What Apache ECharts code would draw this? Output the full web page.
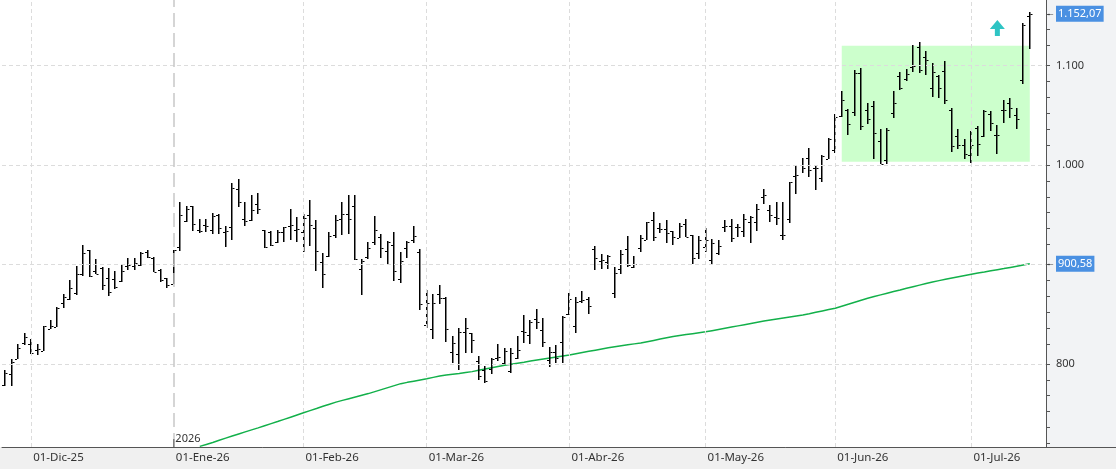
<!DOCTYPE html>
<html lang="es">
<head>
<meta charset="utf-8">
<title>Cotización diaria</title>
<script src="https://cdn.jsdelivr.net/npm/echarts@6/dist/echarts.min.js"></script>
<style>
  html, body { margin: 0; padding: 0; background: #fff; }
  #chart { width: 1116px; height: 469px; }
</style>
</head>
<body>
<div id="chart"></div>
<script>
// barras OHLC diarias, una por sesión desde el 25-Nov-25
const opens = [
  779, 790, 805, 821, 819.6, 814, 813, 835.5, 837, 861.5,
  865, 871.6, 890, 914.5, 893, 896, 886.8, 885, 883.4, 898,
  898.6, 899.3, 912, 906, 894.6, 886, 880.7, 918, 944, 958.4,
  934.8, 940, 934.8, 949.3, 933, 937.5, 976, 945.6, 944.6, 960.8,
  934.8, 932.4, 922.3, 933, 938.8, 934.5, 932.8, 950, 937, 902.4,
  908, 929.4, 945.6, 951, 959, 895, 907.8, 922.3, 928, 913.5,
  919.3, 885.8, 916.2, 925, 912.8, 839.2, 835, 870.6, 866, 811.8,
  810, 832, 830.7, 802.4, 793.6, 795, 806.4, 800.7, 793, 805.4,
  833.5, 829.4, 845, 834.5, 804, 812, 822, 850.5, 838, 862.8,
  865.5, 915.6, 903.2, 902.9, 871.4, 895.3, 915.9, 897, 916.6, 925,
  945, 936.7, 936, 933.3, 926.6, 940.7, 929.3, 911, 917.6, 904.4,
  911.6, 937.4, 939, 937.4, 934, 942.7, 943, 968.2, 955.1, 947.7,
  930, 946, 988.9, 999.7, 1007.4, 996.6, 987.3, 1006, 1015, 1049.5,
  1055, 1053, 1092.3, 1055, 1059.7, 1023.7, 1005.3, 1052.7, 1089.7, 1086.7,
  1098.3, 1118.7, 1109, 1077, 1089.3, 1094.7, 1055, 1029, 1020, 1010,
  1036.7, 1029.3, 1051.7, 1029.7, 1055, 1062.7, 1050, 1085, 1149.7
];
const highs = [
  794, 805, 820, 831.4, 825, 819.6, 838.5, 844, 856.8, 870.6,
  884, 898, 919.3, 915, 905, 897, 896.3, 893, 900, 906,
  906, 912.8, 914.5, 907, 895.3, 886.8, 915, 962.8, 959, 959,
  946, 946, 951.7, 950.7, 938.8, 982, 985.5, 962.8, 970, 972.3,
  934.8, 934, 934.8, 938, 956, 948, 950.3, 965, 945, 911.5,
  932.8, 950, 963, 969.6, 969.6, 905.7, 922.6, 949, 930.7, 923.6,
  932.8, 912, 923.6, 938.8, 915.9, 874, 870, 879, 867, 827.7,
  836.5, 846.6, 831.4, 808, 797.6, 805.8, 820, 816, 816, 827.7,
  849.3, 844.6, 854.7, 846, 817, 819, 848, 871, 867, 873.3,
  867.2, 918.9, 910.6, 909.9, 897, 914.4, 928.4, 908.2, 929.9, 943,
  953, 942, 945, 934, 942, 946, 930, 928.3, 936.7, 926,
  924.6, 944.7, 946, 940.7, 951, 948.4, 960.5, 975.9, 960.1, 962.8,
  963.2, 983.2, 1000, 1006.7, 1017.4, 1000.3, 1010, 1027, 1051, 1074.5,
  1056, 1096, 1097.7, 1062.7, 1064, 1036, 1036.7, 1074, 1094, 1096.7,
  1121, 1124, 1115, 1103, 1090, 1105, 1057, 1036, 1025.7, 1034,
  1039, 1055.3, 1054, 1040, 1065, 1067, 1057.3, 1142.7, 1153.5
];
const lows = [
  778, 778, 804.7, 819, 809.8, 808.8, 812.8, 834.8, 836.8, 856.4,
  864, 869.6, 888, 887.5, 890, 874.7, 868, 875, 882.4, 894.6,
  894, 898.6, 906, 892, 882.8, 876.7, 880.4, 913, 943, 933.8,
  932, 933, 930.4, 931, 918, 925, 957.8, 939, 944, 951,
  916.9, 918.9, 921.3, 923, 924.7, 923, 912.8, 919, 893.6, 876.4,
  907.8, 927, 929.4, 931, 904, 869, 905.7, 919.6, 906.4, 900.3,
  883.4, 881.4, 906, 921.3, 853.7, 835.8, 825, 860.5, 821.6, 801,
  794, 810.5, 810.5, 784, 780.4, 790.2, 803, 800.3, 790.5, 804.7,
  821, 820, 834.8, 816.6, 797, 801, 801, 849.5, 830.7, 860.8,
  850, 894.1, 895.4, 895.4, 866, 890.3, 897.7, 896, 912.9, 924.6,
  923.3, 931.7, 921.3, 919.3, 926.3, 927.6, 900, 905.6, 912.9, 900,
  909.2, 932.7, 922.6, 928, 927.6, 921.6, 933.3, 960.8, 942.7, 939.4,
  924.3, 941.7, 970.9, 992, 987.6, 974.5, 982.6, 1005.7, 1012.3, 1048.5,
  1030, 1049.7, 1035.3, 1041.3, 1006.3, 1000.7, 1001.3, 1047.3, 1075.7, 1084.3,
  1093.3, 1092.3, 1090.3, 1068.3, 1067.3, 1061.3, 1013.3, 1016.3, 1006.3, 1002.3,
  1009.3, 1028.3, 1034.3, 1011, 1042.3, 1047.3, 1036.3, 1081.7, 1116.3
];
const closes = [
  791, 802, 816, 826.7, 810.8, 815, 838, 838.5, 856, 867,
  876.7, 889.9, 911, 888.5, 890.5, 879.7, 872.6, 877.4, 892.9, 899,
  901.7, 911.8, 907, 892.6, 884.5, 879.7, 914, 950, 955.7, 941,
  933.4, 939, 949, 936.8, 933.8, 977, 963, 944, 954.7, 956,
  917.9, 920, 932.4, 937.5, 940, 935.8, 946.6, 939.9, 913.5, 890,
  928.7, 945, 950.3, 946, 905, 903, 917, 934.5, 917, 923,
  892.9, 903.4, 923, 928.7, 860.5, 861.5, 861, 866.2, 835, 821,
  832.4, 836, 824.3, 788.2, 783, 804.7, 807.4, 813, 810.5, 813.9,
  832.4, 842.6, 842.6, 821.6, 812, 806, 847, 865, 862.5, 864.5,
  858, 906.6, 904.2, 908.9, 891, 910.3, 899.6, 900.7, 926.6, 942.4,
  927.6, 936, 931.7, 927.6, 938.7, 928, 906, 924.6, 924.6, 922,
  919, 938.4, 927, 938, 946, 947.4, 955.8, 969.5, 950.1, 947,
  929.6, 982.6, 990.3, 997, 995.3, 997.3, 1009.4, 1026.5, 1048, 1065,
  1041, 1092.3, 1039, 1046, 1031.7, 1001.3, 1035, 1062.7, 1077.7, 1091,
  1099.3, 1096, 1105.7, 1093.7, 1077, 1065, 1019, 1020.3, 1010.7, 1020,
  1020.7, 1054, 1042.7, 1029.7, 1055.7, 1057.7, 1046.7, 1140.7, 1152.07
];

// media móvil: solo el tramo visible, empieza en la sesión 30
const maStart = 30;
const maValues = [
  717, 719, 721, 723.2, 725.3, 727.4, 729.5, 731.6, 733.6, 735.6, 737.8, 739.9, 742,
  744.2, 746.4, 748.6, 750.8,
  753, 755.1, 757.3, 759.4, 761.5,
  763.3, 765, 766.7, 768.4, 770.1,
  772.1, 774.1, 776.1, 778.1, 780.1,
  781.4, 782.6, 783.8, 785,
  786.4, 787.8, 788.8, 789.6, 790.4, 791.3, 792.2,
  793.5, 794.8, 796.1, 797.4, 798.7,
  799.7, 800.7, 801.7, 802.8, 803.9,
  805, 806, 807, 808, 809,
  810.2, 811.4, 812.6, 813.8, 815, 816.2,
  817.2, 818.2, 819.2, 820.1, 821,
  822.3, 823.6, 824.9, 826.2, 827.5,
  828.5, 829.5, 830.4, 831.3, 832.2,
  833.4, 834.6, 835.8, 837, 838.2,
  839.4, 840.6, 841.8, 843, 844.2,
  845.2, 846.2, 847.2, 848.2, 849.2,
  850.4, 851.8, 853.2, 854.6, 856,
  858, 860, 862, 864, 866,
  867.7, 869.4, 871.1, 872.7, 874.3,
  876, 877.6, 879.2, 880.8, 882.4,
  883.7, 885, 886.3, 887.6, 888.9, 890.1,
  891.3, 892.4, 893.6, 894.7, 895.8,
  897, 898.2, 899.4, 900.58
];

// calendario de sesiones
const firstSession = '2025-11-25';
const lastSession = '2026-07-14';
const holidays = ['2025-12-25', '2026-01-01', '2026-01-06', '2026-02-16', '2026-04-03', '2026-05-01', '2026-06-24'];
const monthNames = ['Ene', 'Feb', 'Mar', 'Abr', 'May', 'Jun', 'Jul', 'Ago', 'Sep', 'Oct', 'Nov', 'Dic'];

// eje de precios
const priceMin = 716.4;
const priceMax = 1165.9;
const priceLabels = [800, 900, 1000, 1100];
const tickSteps = [0, 20, 36, 52, 68, 84];

// zona de consolidación y flecha
const boxFrom = '2026-06-02';
const boxTo = '2026-07-14';
const boxHigh = 1120;
const boxLow = 1003.3;
const arrowDate = '2026-07-07';
const arrowPrice = 1137.8;

function buildSessions() {
  const out = [];
  const d = new Date(firstSession + 'T00:00:00Z');
  const end = new Date(lastSession + 'T00:00:00Z');
  while (d <= end) {
    const iso = d.toISOString().slice(0, 10);
    const wd = d.getUTCDay();
    if (wd !== 0 && wd !== 6 && holidays.indexOf(iso) < 0) out.push(iso);
    d.setUTCDate(d.getUTCDate() + 1);
  }
  return out;
}

// 1.152,07
function fmtEs(v, dec) {
  const parts = v.toFixed(dec).split('.');
  parts[0] = parts[0].replace(/\B(?=(\d{3})+(?!\d))/g, '.');
  return parts.join(',');
}

const dates = buildSessions();
// dos huecos a la derecha, antes del eje de precios
const categories = dates.concat(['_a', '_b']);

const monthStart = categories.map((d, i) =>
  i > 0 && i < dates.length && d.slice(5, 7) !== categories[i - 1].slice(5, 7));
const yearIdx = dates.findIndex((d, i) => i > 0 && d.slice(0, 4) !== dates[i - 1].slice(0, 4));
const yearStart = dates[yearIdx];
const monthLines = dates.filter((d, i) => monthStart[i] && i !== yearIdx);

const yTicks = [];
for (let h = 700; h <= 1100; h += 100) {
  tickSteps.forEach(s => {
    if (h + s >= priceMin && h + s <= priceMax) yTicks.push(h + s);
  });
}

const ohlc = dates.map((d, i) => [i, opens[i], highs[i], lows[i], closes[i]]);
const maData = dates.map((d, i) => (i >= maStart ? maValues[i - maStart] : null));

const lastClose = closes[closes.length - 1];
const lastMa = maValues[maValues.length - 1];

function renderBar(params, api) {
  const i = api.value(0);
  const hi = api.coord([i, api.value(2)]);
  const lo = api.coord([i, api.value(3)]);
  const op = api.coord([i, api.value(1)]);
  const cl = api.coord([i, api.value(4)]);
  const x = Math.round(hi[0]) - 1;
  const y1 = Math.round(hi[1]);
  const y2 = Math.round(lo[1]);
  const ink = { fill: '#000' };
  return {
    type: 'group',
    children: [
      { type: 'rect', shape: { x: x, y: y1, width: 1.5, height: Math.max(1, y2 - y1) }, style: ink },
      { type: 'rect', shape: { x: x - 2, y: Math.round(op[1]), width: 2, height: 1 }, style: ink },
      { type: 'rect', shape: { x: x + 1.5, y: Math.round(cl[1]), width: 2, height: 1 }, style: ink }
    ]
  };
}

function priceTag(text) {
  return {
    show: true,
    position: 'end',
    distance: 0,
    formatter: '{a|←}{b|' + text + '}',
    rich: {
      a: { color: '#444', fontSize: 9, padding: [0, 1, 0, 0] },
      b: { color: '#fff', backgroundColor: '#4a90e2', fontSize: 11, padding: [3, 2, 2, 2] }
    }
  };
}

const chart = echarts.init(document.getElementById('chart'));
chart.setOption({
  animation: false,
  backgroundColor: '#fff',
  textStyle: { fontFamily: 'Noto Sans' },
  grid: {
    left: 2, right: 70, top: 0, bottom: 22,
    show: true, backgroundColor: '#fff', borderWidth: 0,
    outerBoundsMode: 'none'
  },
  graphic: [
    { type: 'rect', z: -10, left: 1046, top: 0, shape: { width: 70, height: 447 }, style: { fill: '#f2f3f5' } },
    { type: 'rect', z: -10, left: 0, top: 447, shape: { width: 1116, height: 22 }, style: { fill: '#f0f0f0' } },
    { type: 'line', z: 10, shape: { x1: 1046, y1: 447.5, x2: 1116, y2: 447.5 }, style: { stroke: '#555', lineWidth: 1 } }
  ],
  xAxis: {
    type: 'category',
    data: categories,
    boundaryGap: true,
    axisLine: { lineStyle: { color: '#555', width: 1 } },
    axisTick: {
      alignWithLabel: true,
      interval: i => monthStart[i],
      length: 10,
      lineStyle: { color: '#555' }
    },
    axisLabel: {
      interval: i => monthStart[i],
      formatter: v => '01-' + monthNames[+v.slice(5, 7) - 1] + '-' + v.slice(2, 4),
      align: 'left',
      margin: 5,
      padding: [0, 0, 0, 2],
      color: '#333',
      fontSize: 11.5
    },
    splitLine: { show: false }
  },
  yAxis: {
    type: 'value',
    position: 'right',
    min: priceMin,
    max: priceMax,
    axisLine: { show: true, lineStyle: { color: '#555', width: 1 } },
    axisTick: { show: true, length: 4, customValues: yTicks, lineStyle: { color: '#555' } },
    axisLabel: {
      customValues: priceLabels,
      formatter: v => fmtEs(v, 0),
      margin: 10,
      color: '#333',
      fontSize: 11
    },
    splitLine: { show: false }
  },
  series: [
    {
      // zona verde
      name: 'zona',
      type: 'line',
      data: [],
      z: 1,
      silent: true,
      markArea: {
        silent: true,
        itemStyle: { color: '#ccffcc' },
        data: [[{ xAxis: boxFrom, yAxis: boxHigh }, { xAxis: boxTo, yAxis: boxLow }]]
      }
    },
    {
      // rejilla punteada y separador de año
      name: 'rejilla',
      type: 'line',
      data: [],
      z: 2,
      silent: true,
      markLine: {
        silent: true,
        symbol: ['none', 'none'],
        label: { show: false },
        lineStyle: { color: '#dcdcdc', type: [4, 3], width: 1 },
        data: priceLabels.map(v => ({ yAxis: v }))
          .concat(monthLines.map(d => ({ xAxis: d })))
          .concat([{ xAxis: yearStart, lineStyle: { color: '#c8c8c8', type: [14, 6], width: 1.5 } }])
      }
    },
    {
      name: 'Media',
      type: 'line',
      data: maData,
      z: 3,
      symbol: 'none',
      lineStyle: { color: '#12b04a', width: 1.5 },
      markLine: {
        silent: true,
        symbol: ['none', 'none'],
        lineStyle: { color: 'transparent', width: 0 },
        label: priceTag(fmtEs(lastMa, 2)),
        data: [{ yAxis: lastMa }]
      }
    },
    {
      name: 'Precio',
      type: 'custom',
      data: ohlc,
      z: 4,
      encode: { x: 0, y: [1, 2, 3, 4] },
      renderItem: renderBar
    },
    {
      // etiquetas y flecha
      name: 'marcas',
      type: 'line',
      data: [],
      z: 5,
      markLine: {
        silent: true,
        symbol: ['none', 'none'],
        lineStyle: { color: 'transparent', width: 0 },
        label: priceTag(fmtEs(lastClose, 2)),
        data: [{ yAxis: lastClose }]
      },
      markPoint: {
        silent: true,
        data: [
          {
            coord: [arrowDate, arrowPrice],
            symbol: 'path://M7.5,0 L15,9 L10,9 L10,16 L5,16 L5,9 L0,9 Z',
            symbolSize: [15, 16],
            itemStyle: { color: '#2ec4c4' },
            label: { show: false }
          },
          {
            coord: [yearStart, priceMin],
            symbol: 'rect',
            symbolSize: [1, 8],
            symbolOffset: [0, -4],
            itemStyle: { color: '#555' },
            label: {
              show: true,
              position: 'right',
              distance: 1,
              offset: [0, -4],
              formatter: yearStart.slice(0, 4),
              color: '#333',
              fontSize: 11
            }
          }
        ]
      }
    }
  ]
});
</script>
</body>
</html>
